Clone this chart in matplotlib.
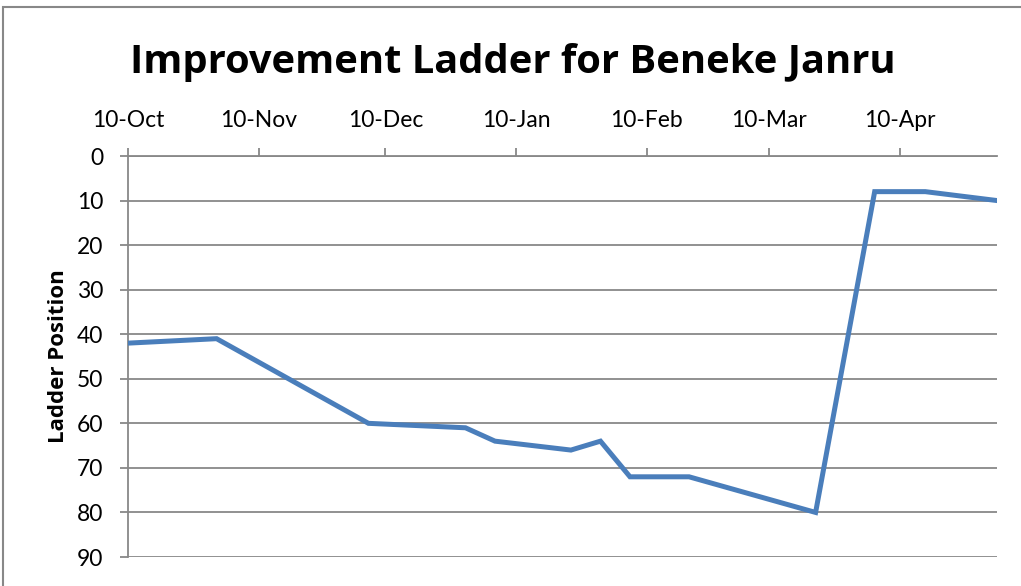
import matplotlib
matplotlib.use("Agg")
import matplotlib.pyplot as plt
import matplotlib.dates as mdates
from matplotlib.patches import Rectangle
import datetime as dt

dates = ["2011-10-10", "2011-10-31", "2011-12-06", "2011-12-29", "2012-01-05",
         "2012-01-23", "2012-01-30", "2012-02-06", "2012-02-20", "2012-03-21",
         "2012-04-04", "2012-04-16", "2012-05-03"]
positions = [42, 41, 60, 61, 64, 66, 64, 72, 72, 80, 8, 8, 10]
tick_dates = ["2011-10-10", "2011-11-10", "2011-12-10", "2012-01-10",
              "2012-02-10", "2012-03-10", "2012-04-10"]
y_ticks = [0, 10, 20, 30, 40, 50, 60, 70, 80, 90]
title = "Improvement Ladder for Beneke Janru"
y_label = "Ladder Position"

plt.rcParams['font.family'] = ['Lato', 'DejaVu Sans']

W, H = 1021, 586
fig = plt.figure(figsize=(W / 100, H / 100), dpi=100)
ax = fig.add_axes([128 / W, (H - 557) / H, (997 - 128) / W, (557 - 156) / H])

x = [dt.datetime.strptime(d, "%Y-%m-%d") for d in dates]
xt = [dt.datetime.strptime(d, "%Y-%m-%d") for d in tick_dates]

grid_c = "#888888"
ax.plot(x, positions, color="#4a7ebb", lw=3.6, solid_joinstyle="miter", zorder=3)

ax.set_xlim(x[0], x[-1])
ax.set_ylim(90, 0)
ax.set_yticks(y_ticks)
ax.set_xticks(xt)
ax.xaxis.set_major_formatter(mdates.DateFormatter("%d-%b"))
ax.xaxis.tick_top()

for s in ["right", "bottom"]:
    ax.spines[s].set_visible(False)
for s in ["left", "top"]:
    ax.spines[s].set_color(grid_c)
    ax.spines[s].set_linewidth(1.3)

ax.grid(axis="y", color=grid_c, lw=1.3)
ax.set_axisbelow(True)
ax.tick_params(axis="both", colors=grid_c, length=5.8, width=1.3, labelcolor="black",
               labelsize=16.5)
ax.tick_params(axis="y", pad=12)
ax.tick_params(axis="x", pad=12)

ax.set_ylabel(y_label, fontsize=16, fontweight="bold", labelpad=5.5,
              family=["Open Sans", "DejaVu Sans"])
fig.text(0.5025, (H - 73) / H, title, ha="center", va="baseline",
         fontsize=28.7, fontweight="bold", family=["Open Sans", "DejaVu Sans"])

fig.patches.append(Rectangle((2.5 / W, -0.1), 1.2, 1 - 6.5 / H + 0.1,
                             transform=fig.transFigure, fill=False,
                             edgecolor=grid_c, lw=1.5, clip_on=False))

fig.savefig("out.png", dpi=100)
